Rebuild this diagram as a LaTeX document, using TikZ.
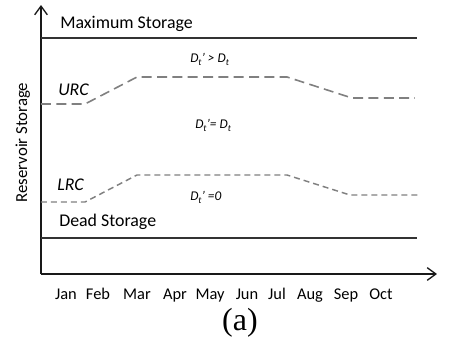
\documentclass[tikz,border=0pt]{standalone}
\usepackage{fontspec}
\setmainfont{Carlito}
\newfontfamily\timesf{Liberation Serif}
\usetikzlibrary{arrows.meta}
\newcommand\Dsub{D\raisebox{-0.6ex}{\fontsize{7}{8}\selectfont t}}
\begin{document}
\begin{tikzpicture}[x=0.75pt,y=-0.75pt,
 axis/.style={line width=1.4pt, draw=black!90, -{Straight Barb[length=6.5pt,width=9.5pt,line width=1pt]}},
 level/.style={line width=1.5pt, draw=black!80},
 urc/.style={line width=1.2pt, draw=black!50, dash pattern=on 7.5pt off 4pt},
 lrc/.style={line width=1.1pt, draw=black!50, dash pattern=on 4.5pt off 3pt},
 big/.style={font=\fontsize{13.4}{16}\selectfont, inner sep=0pt, anchor=base west},
 cond/.style={font=\fontsize{10}{12}\selectfont\itshape, inner sep=0pt, anchor=base west},
 month/.style={font=\fontsize{12.3}{15}\selectfont, inner sep=0pt, anchor=base},
]
\useasboundingbox (0,0) rectangle (455,340);
\coordinate (O) at (41,274);
\coordinate (Ytip) at (41,5);
\coordinate (Xtip) at (437,274);
\coordinate (M1) at (41,38);
\coordinate (M2) at (417,38);
\coordinate (D1) at (41,237.5);
\coordinate (D2) at (417,237.5);
\draw[axis] (O) -- (Ytip);
\draw[axis] (O) -- (Xtip);
\draw[level] (M1) -- (M2);
\draw[level] (D1) -- (D2);
\draw[urc] (41,104) -- (85,104) -- (137,77) -- (287,77) -- (352,98) -- (415,98);
\draw[lrc] (41,202) -- (85,202) -- (137,175) -- (287,175) -- (350,195) -- (418,195);
\node[big] (max) at (60,28) {Maximum Storage};
\node[big] (dead) at (59,226) {Dead Storage};
\node[big, font=\fontsize{13.4}{16}\selectfont\itshape] (urclab) at (58,95) {URC};
\node[big, font=\fontsize{13.4}{16}\selectfont\itshape] (lrclab) at (57,190) {LRC};
\node[cond] (c1) at (190,62) {\Dsub’ > \Dsub};
\node[cond] (c2) at (195,128) {\Dsub’= \Dsub};
\node[cond] (c3) at (190,200) {\Dsub’ =0};
\node[big, font=\fontsize{12.6}{15}\selectfont, rotate=90, anchor=base] (ylab) at (27,142.5) {Reservoir Storage};
\foreach \m/\x in {Jan/66,Feb/98,Mar/137,Apr/175,May/210,Jun/247,Jul/277,Aug/310,Sep/346,Oct/381}
  \node[month] (m\m) at (\x,299) {\m};
\node[font=\timesf\fontsize{24}{28}\selectfont, inner sep=0pt, anchor=base] (cap) at (240,330) {(a)};
\end{tikzpicture}
\end{document}
